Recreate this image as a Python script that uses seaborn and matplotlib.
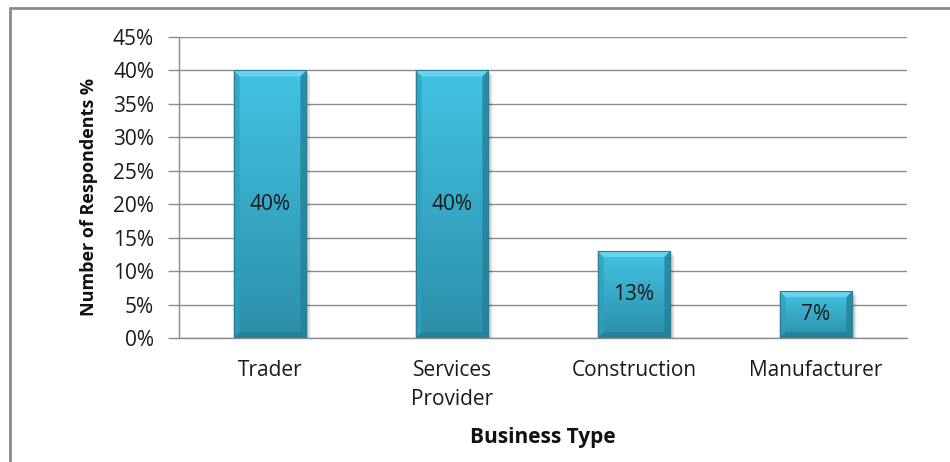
import numpy as np
import matplotlib
matplotlib.use("Agg")
import matplotlib.pyplot as plt
from matplotlib.patches import Rectangle, Polygon
from matplotlib.ticker import FuncFormatter, MultipleLocator
import seaborn as sns
import pandas as pd

# Survey data: share of respondents by business type
categories = ["Trader", "Services\nProvider", "Construction", "Manufacturer"]
shares = [40, 40, 13, 7]          # percent
bar_labels = ["40%", "40%", "13%", "7%"]

sns.set_theme(style="white")
plt.rcParams["font.family"] = ["Open Sans", "DejaVu Sans"]

W, H = 950, 462
fig = plt.figure(figsize=(W / 100, H / 100), dpi=100)
ax = fig.add_axes([179 / W, 124 / H, (907 - 179) / W, (338 - 37) / H])

df = pd.DataFrame({"type": categories, "share": shares})
sns.barplot(data=df, x="type", y="share", width=0.4, color="#3bb5d6",
            saturation=1, ax=ax, zorder=3)

ax.set_ylim(0, 45)
ax.set_xlim(-0.5, len(categories) - 0.5)
ax.yaxis.set_major_locator(MultipleLocator(5))
ax.yaxis.set_major_formatter(FuncFormatter(lambda v, _: f"{v:.0f}%"))

# gridlines and axis styling
grid_c = "#8c8c8c"
ax.grid(axis="y", color=grid_c, linewidth=1.0, zorder=0)
ax.set_axisbelow(True)
for s in ["top", "right"]:
    ax.spines[s].set_visible(False)
ax.spines["left"].set_color(grid_c)
ax.spines["bottom"].set_color(grid_c)
ax.spines["left"].set_linewidth(1.0)
ax.spines["bottom"].set_linewidth(1.0)
ax.tick_params(axis="y", which="major", direction="out", length=8, width=1.0,
               color=grid_c, left=True, labelsize=15, labelcolor="#1a1a1a", pad=10)
ax.tick_params(axis="x", length=0, labelsize=15, labelcolor="#1a1a1a", pad=16)
for t in ax.get_xticklabels():
    t.set_linespacing(1.5)

ax.set_xlabel("Business Type", fontsize=15, fontweight="bold", color="#111111", labelpad=12)
ax.set_ylabel("Number of Respondents %", fontsize=13.0, fontweight="bold", color="#111111")
ax.yaxis.set_label_coords((98 - 179) / 728, (338 - 197) / 301)

# pixel -> data scales for bevel widths
px_x = (len(categories)) / (907 - 179)
px_y = 45 / (338 - 37)
bx, by = 6 * px_x, 6 * px_y

grad = np.linspace(0, 1, 256).reshape(-1, 1)
top_c = np.array(matplotlib.colors.to_rgb("#42c3e3"))
bot_c = np.array(matplotlib.colors.to_rgb("#2c8fa9"))
img = top_c * (1 - grad[..., None]) + bot_c * grad[..., None]

for patch, lab in zip(ax.patches, bar_labels):
    x0, y0 = patch.get_x(), patch.get_y()
    w, h = patch.get_width(), patch.get_height()
    x1, y1 = x0 + w, y0 + h

    # soft drop shadow
    for k, a in enumerate([0.10, 0.08, 0.06, 0.04]):
        off = (k + 1) * 1.2
        ax.add_patch(Rectangle((x0 + off * px_x, y0 - off * px_y), w, h,
                               facecolor="black", alpha=a, edgecolor="none", zorder=2))

    patch.set_facecolor("none")
    patch.set_edgecolor("#2a7f95")
    patch.set_linewidth(0.8)
    patch.set_zorder(6)

    im = ax.imshow(img, extent=[x0, x1, y0, y1], aspect="auto", zorder=4,
                   origin="upper", interpolation="bilinear")
    im.set_clip_path(patch)

    # bevel facets
    ax.add_patch(Polygon([[x0, y1], [x1, y1], [x1 - bx, y1 - by], [x0 + bx, y1 - by]],
                         closed=True, facecolor="#6fd8ef", edgecolor="none", alpha=0.85, zorder=5))
    ax.add_patch(Polygon([[x0, y1], [x0 + bx, y1 - by], [x0 + bx, y0 + by], [x0, y0]],
                         closed=True, facecolor="#2f9fbd", edgecolor="none", alpha=0.7, zorder=5))
    ax.add_patch(Polygon([[x1, y1], [x1 - bx, y1 - by], [x1 - bx, y0 + by], [x1, y0]],
                         closed=True, facecolor="#24809a", edgecolor="none", alpha=0.8, zorder=5))
    ax.add_patch(Polygon([[x0, y0], [x0 + bx, y0 + by], [x1 - bx, y0 + by], [x1, y0]],
                         closed=True, facecolor="#257f98", edgecolor="none", alpha=0.8, zorder=5))

    ax.text(x0 + w / 2, y0 + h / 2, lab, ha="center", va="center", fontsize=15,
            color="#1a1a1a", zorder=7)

# outer chart frame
fig.patches.append(Rectangle((10 / W, -0.05), 1.0, 1 - 8 / H + 0.05, transform=fig.transFigure,
                             fill=False, edgecolor="#8a8a8a", linewidth=2.0))

fig.savefig("out.png", dpi=100, facecolor="white")
